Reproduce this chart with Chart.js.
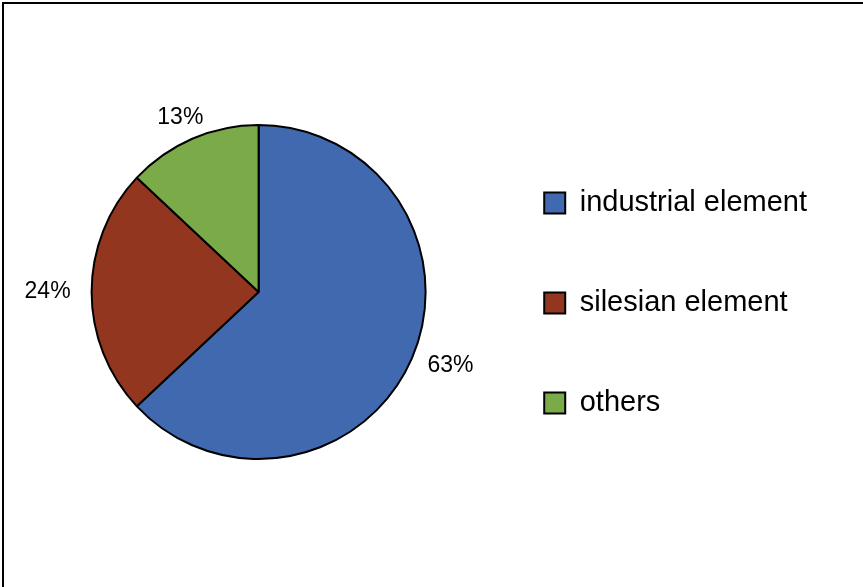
<!DOCTYPE html>
<html>
<head>
<meta charset="utf-8">
<script src="https://cdn.jsdelivr.net/npm/chart.js@4"></script>
<style>
  html, body { margin: 0; padding: 0; background: #fff; }
  #wrap { position: relative; width: 863px; height: 587px; overflow: hidden; }
  #frame {
    position: absolute; left: 2px; top: 2px; right: -4px; bottom: -4px;
    border-top: 2px solid #000; border-left: 2px solid #000;
    pointer-events: none;
  }
  canvas { position: absolute; left: 0; top: 0; }
</style>
</head>
<body>
<div id="wrap">
  <canvas id="pieChart" width="863" height="587"></canvas>
  <div id="frame"></div>
</div>
<script>
// share of species by element group (%)
const groups = ['industrial element', 'silesian element', 'others'];
const shares = [63, 24, 13];
const sliceColors = ['#4169b0', '#93361f', '#7aab48'];

const FONT = '"Liberation Sans", Arial, sans-serif';

// percentage labels placed just outside each slice
const pctLabels = {
  id: 'pctLabels',
  afterDatasetsDraw(chart) {
    const ctx = chart.ctx;
    const meta = chart.getDatasetMeta(0);
    ctx.save();
    ctx.font = '23px ' + FONT;
    ctx.fillStyle = '#000';
    ctx.textAlign = 'center';
    ctx.textBaseline = 'middle';
    meta.data.forEach((arc, i) => {
      const p = arc.getProps(['x', 'y', 'startAngle', 'endAngle', 'outerRadius'], true);
      const mid = (p.startAngle + p.endAngle) / 2;
      const text = shares[i] + '%';
      const w = ctx.measureText(text).width;
      const r = p.outerRadius + 15;
      const cx = p.x + Math.cos(mid) * (r + w / 2 * Math.abs(Math.cos(mid)) + 6);
      const cy = p.y + Math.sin(mid) * (r + 9 * Math.abs(Math.sin(mid)));
      ctx.fillText(text, cx, cy);
    });
    ctx.restore();
  }
};

new Chart(document.getElementById('pieChart'), {
  type: 'pie',
  data: {
    labels: groups,
    datasets: [{
      data: shares,
      backgroundColor: sliceColors,
      borderColor: '#000',
      borderWidth: 2
    }]
  },
  options: {
    responsive: false,
    animation: false,
    radius: 167,
    layout: { padding: { left: 44, top: 0, bottom: 3, right: 46 } },
    plugins: {
      tooltip: { enabled: false },
      legend: {
        position: 'right',
        // blank title nudges the item column down a little
        title: { display: true, text: ' ', font: { size: 10 }, padding: 5 },
        labels: {
          color: '#000',
          font: { family: FONT, size: 29 },
          boxWidth: 21,
          boxHeight: 21,
          padding: 71
        }
      }
    }
  },
  plugins: [pctLabels]
});
</script>
</body>
</html>
